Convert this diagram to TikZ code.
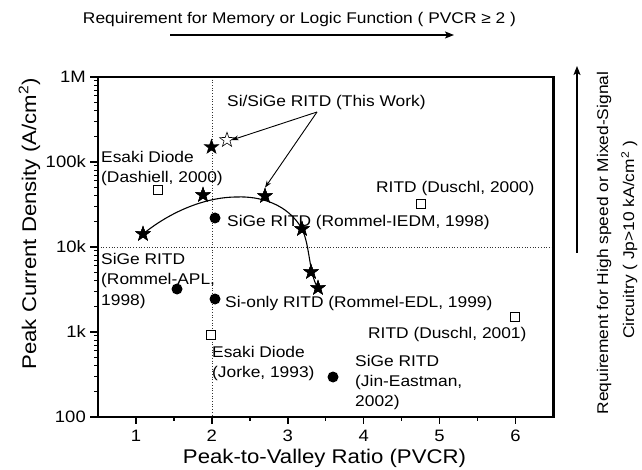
\documentclass[tikz,border=0pt]{standalone}
\usepackage{fontspec}
\setmainfont[FakeStretch=1.12]{Liberation Sans}
\usetikzlibrary{shapes.geometric,arrows.meta}
\begin{document}
\begin{tikzpicture}[x=1pt,y=-1pt,
  fstar/.style={star,star points=5,star point ratio=2.5,fill=black,draw=black,line width=0.4pt,inner sep=0pt,minimum size=15.5pt},
  ostar/.style={star,star points=5,star point ratio=2.5,fill=white,draw=black,line width=0.6pt,inner sep=0pt,minimum size=15.5pt},
  fdot/.style={circle,fill=black,inner sep=0pt,minimum size=11pt},
  osq/.style={rectangle,draw=black,fill=white,line width=0.6pt,inner sep=0pt,minimum size=9pt},
  lbl/.style={font=\fontsize{15.5}{20}\selectfont,inner sep=0pt,anchor=base west,align=left},
  ticklbl/.style={font=\fontsize{16.5}{20}\selectfont,inner sep=0pt},
  axtitle/.style={font=\fontsize{19.8}{24}\selectfont,inner sep=0pt},
  note/.style={font=\fontsize{15.5}{20}\selectfont,inner sep=0pt},
  frame/.style={line width=2.4pt,line cap=rect},
  tickline/.style={line width=1.5pt},
  guide/.style={dotted,line width=0.7pt,black!80},
  pointer/.style={line width=0.9pt,-{Stealth[length=7pt,width=5pt]}},
  bigarrow/.style={line width=1.1pt,-{Stealth[length=9pt,width=7pt,inset=2pt]}},
]
\useasboundingbox (0,0) rectangle (642,470);

% plot frame corners
\coordinate (bl) at (98,417);
\coordinate (br) at (553.4,417);
\coordinate (tl) at (98,77);
\coordinate (tr) at (553.4,77);

% guide lines: PVCR = 2 and Jp = 10 kA/cm^2
\coordinate (vg1) at (211.9,77);
\coordinate (vg2) at (211.9,417);
\coordinate (hg1) at (98,247);
\coordinate (hg2) at (553.4,247);
\draw[guide] (vg1) -- (vg2);
\draw[guide] (hg1) -- (hg2);

% y ticks (log scale, 85pt per decade)
\foreach \d in {0,...,3}{
  \foreach \m in {2,...,9}{
    \pgfmathsetmacro{\yy}{417-85*(\d+log10(\m))}
    \draw[line width=1pt] (98,\yy) -- (94,\yy);
  }
}
\foreach \d/\t in {0/100,1/1k,2/10k,3/100k,4/1M}{
  \pgfmathsetmacro{\yy}{417-85*\d}
  \draw[tickline] (98,\yy) -- (90,\yy);
  \node[ticklbl,anchor=east] (yl\d) at (86,\yy) {\t};
}
% x ticks
\foreach \v in {1,...,6}{
  \pgfmathsetmacro{\xx}{98+75.9*(\v-0.5)}
  \draw[tickline] (\xx,417) -- (\xx,424);
  \node[ticklbl,anchor=base] (xl\v) at (\xx,441) {\v};
}
\foreach \v in {1.5,2.5,3.5,4.5,5.5}{
  \pgfmathsetmacro{\xx}{98+75.9*(\v-0.5)}
  \draw[tickline] (\xx,417) -- (\xx,421);
}

% frame
\draw[frame] (bl) -- (br) -- (tr) -- (tl) -- cycle;

% data of this work
\node[fstar] (s1) at (143,234) {};
\node[fstar] (s2) at (203,195) {};
\node[fstar] (s3) at (211.5,147) {};
\node[fstar] (s4) at (265,196) {};
\node[fstar] (s5) at (302,229) {};
\node[fstar] (s6) at (311,272) {};
\node[fstar] (s7) at (318,288) {};
\node[ostar] (o1) at (227,140) {};

% fitted trend through this work
\coordinate (pk) at (237,197);
\draw[line width=1.1pt] (s1.center) .. controls (170,212) and (205,197) .. (pk)
  .. controls (260,196) and (288,204) .. (s5.center)
  .. controls (310,245) and (309,275) .. (s7.center);
\foreach \s in {s1,s2,s4,s5,s6,s7}{\node[fstar] at (\s) {};}

% literature data
\node[fdot] (c1) at (215,218) {};
\node[fdot] (c2) at (177,289) {};
\node[fdot] (c3) at (215,299) {};
\node[fdot] (c4) at (333,377) {};
\node[osq] (q1) at (158,190) {};
\node[osq] (q2) at (421,204) {};
\node[osq] (q3) at (211,335) {};
\node[osq] (q4) at (515,317) {};

% data labels (multi-line labels sit on the baseline of their last line)
\node[lbl] (tThis) at (227,107) {Si/SiGe RITD (This Work)};
\node[lbl] (tDash) at (101,183) {Esaki Diode\\(Dashiell, 2000)};
\node[lbl] (tIEDM) at (227,227) {SiGe RITD (Rommel-IEDM, 1998)};
\node[lbl] (tDuA) at (376,193) {RITD (Duschl, 2000)};
\node[lbl] (tAPL) at (101,305) {SiGe RITD\\(Rommel-APL,\\1998)};
\node[lbl] (tEDL) at (225,307) {Si-only RITD (Rommel-EDL, 1999)};
\node[lbl] (tJorke) at (212,377) {Esaki Diode\\(Jorke, 1993)};
\node[lbl] (tDuB) at (368,338) {RITD (Duschl, 2001)};
\node[lbl] (tJin) at (355,406) {SiGe RITD\\(Jin-Eastman,\\2002)};

% pointers from the label to this work
\coordinate (p0) at (317,112);
\draw[pointer] (p0) -- (o1.east);
\draw[pointer] (p0) -- (s4.north);

% axis titles
\node[axtitle,anchor=base] (xt) at (324.5,463) {Peak-to-Valley Ratio (PVCR)};
\node[axtitle,anchor=base,rotate=90] (yt) at (36,224) {Peak Current Density (A/cm\textsuperscript{2})};

% requirement notes
\node[note,anchor=base] (rq1) at (299.5,24) {Requirement for Memory or Logic Function ( PVCR ≥ 2 )};
\coordinate (ra1) at (170,35);
\coordinate (ra2) at (454,35);
\draw[bigarrow] (ra1) -- (ra2);
\coordinate (rb1) at (577,253);
\coordinate (rb2) at (577,66);
\draw[bigarrow] (rb1) -- (rb2);
\node[note,anchor=base,rotate=90] (rq2) at (608,243) {Requirement for High speed or Mixed-Signal};
\node[note,anchor=base,rotate=90] (rq3) at (634,240) {Circuitry ( Jp>10 kA/cm\textsuperscript{2} )};
\end{tikzpicture}
\end{document}
